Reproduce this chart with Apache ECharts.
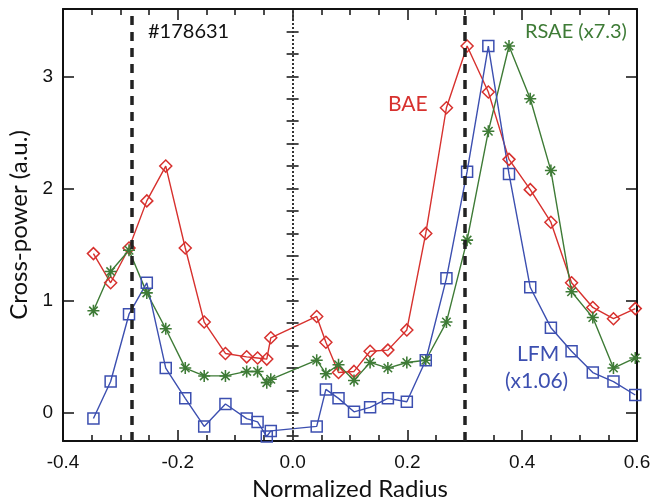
<!DOCTYPE html>
<html>
<head>
<meta charset="utf-8">
<script src="https://cdn.jsdelivr.net/npm/echarts@6/dist/echarts.min.js"></script>
<style>
  html, body { margin: 0; padding: 0; background: #fff; }
  #chart { width: 665px; height: 497px; }
</style>
</head>
<body>
<div id="chart"></div>
<script>
// Radial channel positions (normalized radius)
const radius = [-0.347, -0.317, -0.285, -0.254, -0.221, -0.187, -0.154, -0.117, -0.080, -0.061,
                -0.045, -0.038, 0.042, 0.058, 0.080, 0.107, 0.135, 0.166, 0.199, 0.232,
                0.268, 0.304, 0.341, 0.377, 0.414, 0.450, 0.486, 0.523, 0.559, 0.597];

// Cross-power profiles (a.u.)
const bae = [1.42, 1.16, 1.47, 1.89, 2.20, 1.47, 0.81, 0.53, 0.50, 0.49,
             0.48, 0.67, 0.86, 0.63, 0.36, 0.37, 0.55, 0.56, 0.74, 1.60,
             2.72, 3.27, 2.86, 2.26, 1.99, 1.70, 1.16, 0.94, 0.84, 0.93];
const rsae = [0.91, 1.26, 1.45, 1.07, 0.75, 0.40, 0.33, 0.33, 0.37, 0.37,
              0.27, 0.30, 0.47, 0.35, 0.43, 0.29, 0.45, 0.40, 0.45, 0.47,
              0.81, 1.54, 2.51, 3.27, 2.80, 2.16, 1.08, 0.85, 0.40, 0.49];
const lfm = [-0.05, 0.28, 0.88, 1.16, 0.40, 0.13, -0.12, 0.08, -0.05, -0.08,
             -0.21, -0.16, -0.12, 0.21, 0.13, 0.01, 0.05, 0.13, 0.10, 0.47,
             1.20, 2.15, 3.27, 2.13, 1.12, 0.76, 0.55, 0.36, 0.28, 0.16];

// Reference radii
const edgeRadii = [-0.285, 0.304];
const axisCenter = 0;

// Axis tick values
const yMajor = [0, 1, 2, 3];
const yMinor = [-0.2, 0, 0.2, 0.4, 0.6, 0.8, 1, 1.2, 1.4, 1.6, 1.8, 2, 2.2, 2.4, 2.6, 2.8, 3, 3.2, 3.4];

const RED = '#d7312e', GREEN = '#3e7b36', BLUE = '#3c4fb0';

const pairs = ys => radius.map((r, i) => [r, ys[i]]);

// Eight-armed asterisk built from four thin bars
function asteriskPath() {
  const L = 10, w = 1.3, parts = [];
  for (let k = 0; k < 4; k++) {
    const a = k * Math.PI / 4, c = Math.cos(a), s = Math.sin(a);
    const pts = [[-L, -w], [L, -w], [L, w], [-L, w]].map(([x, y]) =>
      [(x * c - y * s + 10).toFixed(2), (x * s + y * c + 10).toFixed(2)]);
    parts.push('M' + pts.map(p => p.join(' ')).join(' L') + ' Z');
  }
  return 'path://' + parts.join(' ');
}

const chart = echarts.init(document.getElementById('chart'), null, { renderer: 'canvas' });

const tickFont = { fontFamily: 'Liberation Sans', fontSize: 19, color: '#111' };
const blackLine = { lineStyle: { color: '#111', width: 2 } };

function yAxisPair(pos, withLabels) {
  return [
    {
      type: 'value', position: pos, min: -0.25, max: 3.6,
      axisLine: { show: true, onZero: false, ...blackLine },
      axisTick: { show: true, inside: true, length: 11, customValues: yMajor, lineStyle: { color: '#111', width: 1.5 } },
      axisLabel: withLabels ? { show: true, customValues: yMajor, margin: 10, ...tickFont } : { show: false },
      splitLine: { show: false },
      name: withLabels ? 'Cross-power (a.u.)' : '',
      nameLocation: 'middle', nameGap: 20, nameRotate: 90,
      nameTextStyle: { fontFamily: 'Lato', fontSize: 24, color: '#111' }
    },
    {
      type: 'value', position: pos, min: -0.25, max: 3.6,
      axisLine: { show: false },
      axisTick: { show: true, inside: true, length: 6, customValues: yMinor, lineStyle: { color: '#111', width: 1.5 } },
      axisLabel: { show: false },
      splitLine: { show: false }
    }
  ];
}

function xAxisDef(pos, withLabels) {
  return {
    type: 'value', position: pos, min: -0.4, max: 0.6, interval: 0.2,
    axisLine: { show: true, onZero: false, ...blackLine },
    axisTick: { show: true, inside: true, length: 11, lineStyle: { color: '#111', width: 1.5 } },
    minorTick: { show: true, splitNumber: 4, length: 6, lineStyle: { color: '#111', width: 1.5 } },
    axisLabel: withLabels ? {
      show: true, margin: 12, ...tickFont,
      formatter: v => v.toFixed(1)
    } : { show: false },
    splitLine: { show: false }, minorSplitLine: { show: false },
    name: withLabels ? 'Normalized Radius' : '',
    nameLocation: 'middle', nameGap: 29,
    nameTextStyle: { fontFamily: 'Lato', fontSize: 24, color: '#111' }
  };
}

const lineSeries = (name, ys, color, symbol, size, filled) => ({
  name, type: 'line', data: pairs(ys),
  xAxisIndex: 0, yAxisIndex: 0,
  symbol, symbolSize: size, showSymbol: true,
  lineStyle: { color, width: 1.4 },
  itemStyle: filled ? { color, borderWidth: 0 }
                    : { color: 'rgba(255,255,255,0)', borderColor: color, borderWidth: 1.5 },
  emphasis: { disabled: true },
  animation: false, z: 3
});

const option = {
  animation: false,
  backgroundColor: '#fff',
  grid: { left: 63, right: 28, top: 9, bottom: 56, containLabel: false, outerBoundsMode: 'none' },
  xAxis: [xAxisDef('bottom', true), xAxisDef('top', false)],
  yAxis: [...yAxisPair('left', true), ...yAxisPair('right', false)],
  series: [
    {
      type: 'line', data: [], xAxisIndex: 0, yAxisIndex: 0, silent: true,
      markLine: {
        silent: true, symbol: ['none', 'none'], label: { show: false },
        data: [
          ...edgeRadii.map(v => ({ xAxis: v, lineStyle: { color: '#222', width: 3.5, type: [9, 7] } })),
          { xAxis: axisCenter, lineStyle: { color: '#333', width: 2, type: [2, 2] } }
        ]
      },
      z: 2
    },
    lineSeries('BAE', bae, RED, 'diamond', [12, 12], false),
    lineSeries('RSAE', rsae, GREEN, asteriskPath(), 12, true),
    lineSeries('LFM', lfm, BLUE, 'rect', 11, false)
  ],
  graphic: [
    { type: 'text', left: 148, top: 22, style: { text: '#178631', fontFamily: 'Lato', fontSize: 20, fill: '#111' } },
    { type: 'text', left: 525, top: 22, style: { text: 'RSAE (x7.3)', fontFamily: 'Lato', fontSize: 20, fill: GREEN } },
    { type: 'text', left: 388, top: 94, style: { text: 'BAE', fontFamily: 'Lato', fontSize: 21, fill: RED } },
    { type: 'text', left: 517, top: 344, style: { text: 'LFM', fontFamily: 'Lato', fontSize: 21, fill: BLUE } },
    { type: 'text', left: 505, top: 371, style: { text: '(x1.06)', fontFamily: 'Lato', fontSize: 21, fill: BLUE } }
  ]
};

chart.setOption(option);
</script>
</body>
</html>
